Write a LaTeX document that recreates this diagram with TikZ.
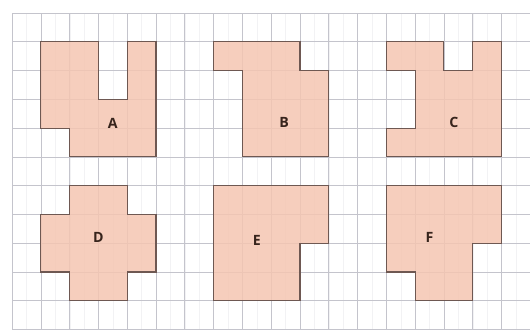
\documentclass[tikz,border=0pt]{standalone}
\usepackage{fontspec}
\setsansfont{Open Sans}
\usetikzlibrary{backgrounds}
\definecolor{tilepink}{RGB}{245,198,178}
\definecolor{tileedge}{RGB}{110,88,82}
\definecolor{gridgrey}{RGB}{196,196,204}
\definecolor{lblbrown}{RGB}{55,36,28}
\begin{document}
\begin{tikzpicture}[y=-1cm]
% Styles
\tikzstyle{tile}=[fill=tilepink, fill opacity=.85, draw=tileedge, line width=1.1pt, line join=miter]
\tikzstyle{lbl}=[font=\sffamily\bfseries\fontsize{14}{14}\selectfont, text=lblbrown, inner sep=1pt]
\useasboundingbox (-0.42,-0.45) rectangle (17.99,11.04);
% Squared paper
\begin{scope}[on background layer]
\draw[gridgrey!22, line width=.3pt, xstep=.5, ystep=.5] (0,0) grid (18,11);
\draw[gridgrey, line width=.7pt] (0,0) grid (18,11);
\end{scope}
% Top row
\draw[tile] (1,1)--(3,1)--(3,3)--(4,3)--(4,1)--(5,1)--(5,5)--(2,5)--(2,4)--(1,4)--cycle;
\draw[tile] (7,1)--(10,1)--(10,2)--(11,2)--(11,5)--(8,5)--(8,2)--(7,2)--cycle;
\draw[tile] (13,1)--(15,1)--(15,2)--(16,2)--(16,1)--(17,1)--(17,5)--(13,5)--(13,4)--(14,4)--(14,2)--(13,2)--cycle;
% Bottom row
\draw[tile] (2,6)--(4,6)--(4,7)--(5,7)--(5,9)--(4,9)--(4,10)--(2,10)--(2,9)--(1,9)--(1,7)--(2,7)--cycle;
\draw[tile] (7,6)--(11,6)--(11,8)--(10,8)--(10,10)--(7,10)--cycle;
\draw[tile] (13,6)--(17,6)--(17,8)--(16,8)--(16,10)--(14,10)--(14,9)--(13,9)--cycle;
% Labels
\node[lbl] (labA) at (3.5,3.85) {A};
\node[lbl] (labB) at (9.45,3.8) {B};
\node[lbl] (labC) at (15.35,3.8) {C};
\node[lbl] (labD) at (3,7.8) {D};
\node[lbl] (labE) at (8.5,7.9) {E};
\node[lbl] (labF) at (14.5,7.8) {F};
\end{tikzpicture}
\end{document}
